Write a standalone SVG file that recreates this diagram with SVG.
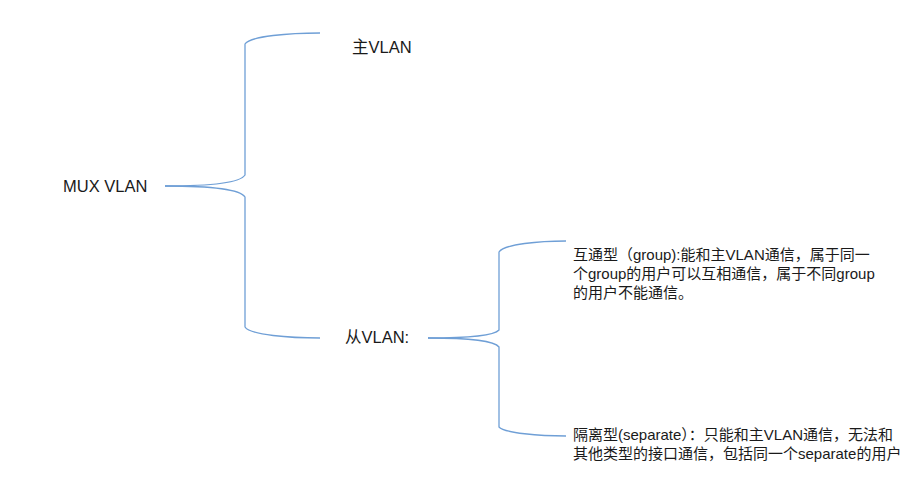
<svg xmlns="http://www.w3.org/2000/svg" width="918" height="502" viewBox="0 0 918 502">
<style>
.c{fill:none;stroke:#6f9fd6;stroke-width:1.3}
.t{font-family:"Liberation Sans","Noto Sans CJK SC",sans-serif;fill:#1a1a1a}
.l{font-size:16.5px}
.s{font-size:15px}
</style>
<rect width="918" height="502" fill="#fff"/>
<g id="connectors">
<path class="c" d="M165,186 C205,186 240,183 245,175 L245,44 C250,36 290,33 320,33"/>
<path class="c" d="M165,186 C205,186 240,189 245,197 L245,327 C250,335 290,338 320,338"/>
<path class="c" d="M428,338 C460,338 494,336 499,330 L499,252 C504,244 540,241 566,241"/>
<path class="c" d="M428,338 C460,338 494,340 499,347 L499,427 C504,433 540,436 566,436"/>
</g>
<g id="mux"><text class="t l" x="63" y="192">MUX VLAN</text></g>
<g id="main"><text class="t l" x="352" y="53">主VLAN</text></g>
<g id="sub"><text class="t l" x="345" y="343">从VLAN:</text></g>
<g id="group">
<text class="t s" x="573" y="260">互通型（group):能和主VLAN通信，属于同一</text>
<text class="t s" x="573" y="279">个group的用户可以互相通信，属于不同group</text>
<text class="t s" x="573" y="298">的用户不能通信。</text>
</g>
<g id="separate">
<text class="t s" x="573" y="440">隔离型(separate）：只能和主VLAN通信，无法和</text>
<text class="t s" x="573" y="459">其他类型的接口通信，包括同一个separate的用户</text>
</g>
</svg>
